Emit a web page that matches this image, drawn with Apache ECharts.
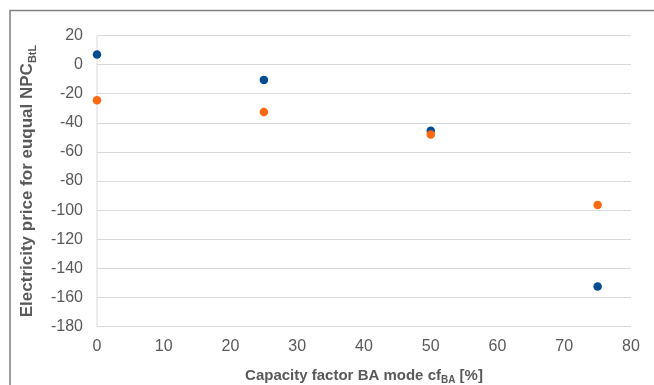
<!DOCTYPE html>
<html>
<head>
<meta charset="utf-8">
<script src="https://cdn.jsdelivr.net/npm/echarts@6/dist/echarts.min.js"></script>
<style>
html,body{margin:0;padding:0;background:#fff;}
#c{width:654px;height:385px;}
</style>
</head>
<body>
<div id="c"></div>
<script>
var capacityFactor = [0, 25, 50, 75];
var seriesBlue = [7, -10.5, -45.5, -152.5];
var seriesOrange = [-24.5, -32.5, -48, -96.5];
var xTicks = [0, 80, 10];
var yTicks = [-180, 20, 20];

function pairs(xs, ys) { return xs.map(function (x, i) { return [x, ys[i]]; }); }

var chart = echarts.init(document.getElementById('c'), null, { renderer: 'canvas' });
var textColor = '#595959';
chart.setOption({
  animation: false,
  backgroundColor: '#fff',
  graphic: [{
    type: 'polyline',
    shape: { points: [[10, 400], [10, 10.5], [660, 10.5]] },
    style: { stroke: '#7f7f7f', lineWidth: 1.5, fill: null },
    silent: true
  }],
  grid: { left: 97, right: 23, top: 35.5, bottom: 58.5, containLabel: false, outerBoundsMode: 'none' },
  xAxis: {
    type: 'value', min: xTicks[0], max: xTicks[1], interval: xTicks[2],
    name: '{a|Capacity factor BA mode cf}{s|BA}{a| [%]}',
    nameLocation: 'middle', nameGap: 39,
    nameTextStyle: {
      rich: {
        a: { fontFamily: 'Liberation Sans', fontSize: 15, fontWeight: 'bold', color: textColor, verticalAlign: 'bottom', lineHeight: 18 },
        s: { fontFamily: 'Liberation Sans', fontSize: 10, fontWeight: 'bold', color: textColor, verticalAlign: 'bottom', lineHeight: 12, padding: [0, 0, -2, 0] }
      }
    },
    axisLine: { show: false },
    axisTick: { show: false },
    splitLine: { show: false },
    axisLabel: { fontFamily: 'Liberation Sans', fontSize: 16, color: textColor, margin: 12 }
  },
  yAxis: {
    type: 'value', min: yTicks[0], max: yTicks[1], interval: yTicks[2],
    name: '{a|Electricity price for euqual NPC}{s|BtL}',
    nameLocation: 'middle', nameGap: 61, nameRotate: 90,
    nameTextStyle: {
      rich: {
        a: { fontFamily: 'Liberation Sans', fontSize: 17, fontWeight: 'bold', color: textColor, verticalAlign: 'bottom', lineHeight: 20 },
        s: { fontFamily: 'Liberation Sans', fontSize: 11, fontWeight: 'bold', color: textColor, verticalAlign: 'bottom', lineHeight: 13, padding: [0, 0, -2, 0] }
      }
    },
    axisLine: { show: false },
    axisTick: { show: false },
    splitLine: { show: true, lineStyle: { color: '#d9d9d9', width: 1 } },
    axisLabel: { fontFamily: 'Liberation Sans', fontSize: 16, color: textColor, margin: 14 }
  },
  series: [
    {
      type: 'line', data: [[0, -180], [0, 20]], symbol: 'none', silent: true,
      lineStyle: { color: '#d9d9d9', width: 1 }, z: 1
    },
    {
      type: 'scatter', data: pairs(capacityFactor, seriesBlue), symbolSize: 8.5,
      itemStyle: { color: '#004c8f', opacity: 1 }, z: 3
    },
    {
      type: 'scatter', data: pairs(capacityFactor, seriesOrange), symbolSize: 8.5,
      itemStyle: { color: '#ff6a10', opacity: 1 }, z: 4
    }
  ]
});
</script>
</body>
</html>
